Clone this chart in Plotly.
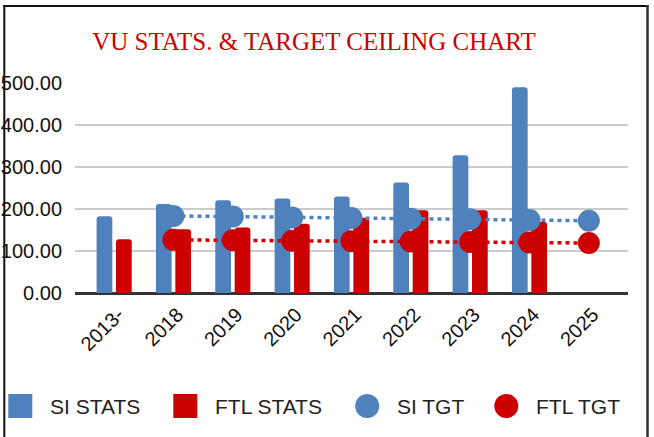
import plotly.graph_objects as go

# ---- data ----
categories = ["2013-", "2018", "2019", "2020", "2021", "2022", "2023", "2024", "2025"]
si_stats = [183, 212, 221, 225, 230, 263, 328, 490, None]
ftl_stats = [128, 152, 156, 165, 179, 197, 197, 169, None]
si_tgt = [None, 183.5, 182, 180, 178.5, 177, 175.5, 174, 172]
ftl_tgt = [None, 126.5, 125.5, 124.5, 123.5, 122.5, 121.5, 120.5, 119]
series_names = ["SI STATS", "FTL STATS", "SI TGT", "FTL TGT"]
y_ticks = [0, 100, 200, 300, 400, 500]
title_text = "VU STATS. & TARGET CEILING CHART"

BLUE = "#4F81BD"
RED = "#CC0000"

# ---- layout geometry (pixels) ----
W_PX, H_PX = 654, 437
L, R, T, B = 75, 26, 83, 144
PW = W_PX - L - R
PH = H_PX - T - B


def px_x(px):
    return (px - L) / PW


def px_y(py):
    return (H_PX - B - py) / PH


fig = go.Figure()
fig.add_trace(go.Bar(x=categories, y=si_stats, name=series_names[0],
                     marker=dict(color=BLUE, line=dict(width=0))))
fig.add_trace(go.Bar(x=categories, y=ftl_stats, name=series_names[1],
                     marker=dict(color=RED, line=dict(width=0))))
fig.add_trace(go.Scatter(x=categories, y=si_tgt, name=series_names[2], mode="lines+markers",
                         line=dict(color=BLUE, width=3.5, dash="4px,4px"),
                         marker=dict(color=BLUE, size=22), connectgaps=False))
fig.add_trace(go.Scatter(x=categories, y=ftl_tgt, name=series_names[3], mode="lines+markers",
                         line=dict(color=RED, width=3.5, dash="4px,4px"),
                         marker=dict(color=RED, size=22), connectgaps=False))

# ---- manual legend (large swatches) ----
shapes = []
annotations = []
legend_items = [
    ("square", BLUE, 8.3, 48.0, series_names[0]),
    ("square", RED, 173.3, 213.0, series_names[1]),
    ("circle", BLUE, 355.2, 394.5, series_names[2]),
    ("circle", RED, 494.3, 533.8, series_names[3]),
]
LEG_Y = 406
for kind, col, sx, tx, label in legend_items:
    shapes.append(dict(type="rect" if kind == "square" else "circle",
                       xref="paper", yref="paper",
                       x0=px_x(sx), x1=px_x(sx + 24),
                       y0=px_y(LEG_Y + 12), y1=px_y(LEG_Y - 12),
                       fillcolor=col, line=dict(width=0), layer="above"))
    annotations.append(dict(text=label, xref="paper", yref="paper",
                            x=px_x(tx), y=px_y(LEG_Y), xanchor="left", yanchor="middle",
                            showarrow=False,
                            font=dict(family="Liberation Sans, Arial, sans-serif", size=21,
                                      color="#222222")))

# ---- outer frame ----
frame = dict(color="#111111", width=2)
shapes.append(dict(type="line", xref="paper", yref="paper", x0=px_x(4.3), x1=px_x(4.3),
                   y0=px_y(5), y1=px_y(440), line=frame, layer="above"))
shapes.append(dict(type="line", xref="paper", yref="paper", x0=px_x(3.3), x1=px_x(648.5),
                   y0=px_y(6), y1=px_y(6), line=frame, layer="above"))
shapes.append(dict(type="line", xref="paper", yref="paper", x0=px_x(647.5), x1=px_x(647.5),
                   y0=px_y(5), y1=px_y(440), line=dict(color="#333333", width=2.5), layer="above"))

fig.update_layout(
    width=W_PX, height=H_PX,
    margin=dict(l=L, r=R, t=T, b=B, pad=0, autoexpand=False),
    paper_bgcolor="white", plot_bgcolor="white",
    barmode="group", bargap=0.346, bargroupgap=0.19, barcornerradius=3,
    showlegend=False,
    title=dict(text=title_text, xref="container", yref="container",
               x=314 / W_PX, y=1 - 41 / H_PX, xanchor="center", yanchor="middle",
               automargin=False,
               font=dict(family="Liberation Serif, Times New Roman, serif", size=25, color=RED)),
    xaxis=dict(type="category", range=[-0.66, 8.66], tickangle=-45, automargin=False,
               showgrid=False, showline=True, linecolor="#333333", linewidth=2,
               ticks="", ticklabelshift=4,
               tickfont=dict(family="Liberation Sans, Arial, sans-serif", size=20,
                             color="#111111")),
    yaxis=dict(range=[0, 500], tickvals=y_ticks, tickformat=".2f", automargin=False,
               showgrid=True, gridcolor="#cccccc", gridwidth=2,
               zeroline=True, zerolinecolor="#333333", zerolinewidth=2,
               showline=False, ticks="", ticklabelstandoff=12,
               tickfont=dict(family="Liberation Sans, Arial, sans-serif", size=20, color="#111111")),
    shapes=shapes,
    annotations=annotations,
)

fig.write_html("out.html",
               config={"displayModeBar": False},
               post_script="document.body.style.margin='0';document.body.style.padding='0';"
                           "document.body.style.overflow='hidden';")
